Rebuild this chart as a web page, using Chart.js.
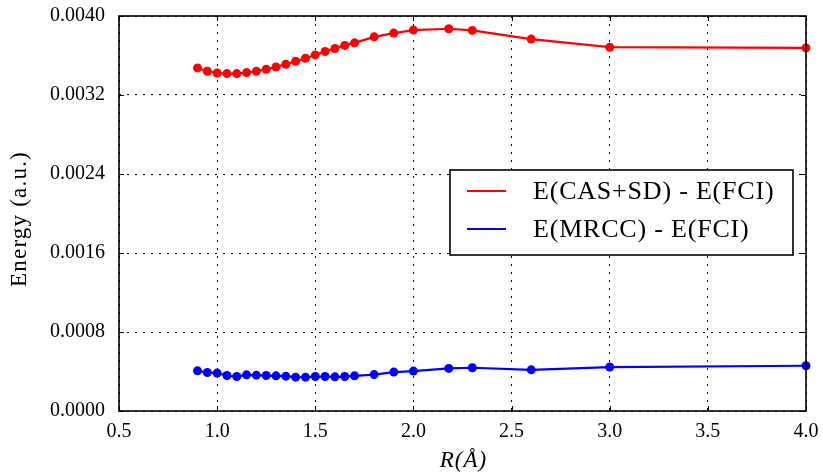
<!DOCTYPE html>
<html>
<head>
<meta charset="utf-8">
<script src="https://cdn.jsdelivr.net/npm/chart.js@4"></script>
<style>
  html, body { margin: 0; padding: 0; background: #fff; }
  #wrap { width: 823px; height: 474px; }
</style>
</head>
<body>
<div id="wrap"><canvas id="energyChart"></canvas></div>
<script>
// bond lengths R (Angstrom)
const rVals = [0.9, 0.95, 1.0, 1.05, 1.1, 1.15, 1.2, 1.25, 1.3, 1.35, 1.4, 1.45, 1.5, 1.55, 1.6, 1.65, 1.7, 1.8, 1.9, 2.0, 2.18, 2.3, 2.6, 3.0, 4.0];

// E(CAS+SD) - E(FCI)
const casVals = [0.003474, 0.003440, 0.003423, 0.003417, 0.003417, 0.003427, 0.003440, 0.003461, 0.003484, 0.003511, 0.003542, 0.003572, 0.003606, 0.003641, 0.003671, 0.003702, 0.003728, 0.003789, 0.003827, 0.003857, 0.003871, 0.003854, 0.003766, 0.003684, 0.003677];

// E(MRCC) - E(FCI)
const mrccVals = [0.000407, 0.000390, 0.000384, 0.000359, 0.000349, 0.000366, 0.000363, 0.000359, 0.000356, 0.000353, 0.000343, 0.000343, 0.000349, 0.000349, 0.000346, 0.000349, 0.000356, 0.000369, 0.000394, 0.000404, 0.000431, 0.000438, 0.000417, 0.000445, 0.000458];

const xTicks = [0.5, 1.0, 1.5, 2.0, 2.5, 3.0, 3.5, 4.0];
const yTicks = [0, 0.0008, 0.0016, 0.0024, 0.0032, 0.0040];

const seriesLabels = ['E(CAS+SD) - E(FCI)', 'E(MRCC) - E(FCI)'];
const xTitle = 'R(Å)';
const yTitle = 'Energy (a.u.)';

const serif = "'Liberation Serif', 'DejaVu Serif', serif";

function toPoints(ys) {
    return rVals.map((r, i) => ({ x: r, y: ys[i] }));
}

// frame, inward ticks, axis titles and the boxed legend, matplotlib style
const frameAndLegend = {
    id: 'frameAndLegend',
    afterDatasetsDraw(chart) {
        const { ctx, chartArea: a, scales } = chart;
        ctx.save();
        ctx.strokeStyle = '#000';
        ctx.lineWidth = 1;
        ctx.beginPath();
        xTicks.forEach(t => {
            const px = Math.round(scales.x.getPixelForValue(t)) + 0.5;
            ctx.moveTo(px, a.bottom); ctx.lineTo(px, a.bottom - 5);
            ctx.moveTo(px, a.top); ctx.lineTo(px, a.top + 5);
        });
        yTicks.forEach(t => {
            const py = Math.round(scales.y.getPixelForValue(t)) + 0.5;
            ctx.moveTo(a.left, py); ctx.lineTo(a.left + 5, py);
            ctx.moveTo(a.right, py); ctx.lineTo(a.right - 5, py);
        });
        ctx.stroke();

        ctx.lineWidth = 1.6;
        ctx.strokeRect(a.left, a.top, a.right - a.left, a.bottom - a.top);

        // axis titles
        ctx.fillStyle = '#000';
        ctx.textAlign = 'center';
        ctx.textBaseline = 'middle';
        ctx.letterSpacing = '1px';
        ctx.font = 'italic 23px ' + serif;
        ctx.fillText(xTitle, (a.left + a.right) / 2 + 1, 461);
        ctx.save();
        ctx.translate(20, 219);
        ctx.rotate(-Math.PI / 2);
        ctx.letterSpacing = '1.2px';
        ctx.font = '23px ' + serif;
        ctx.fillText(yTitle, 0, 0);
        ctx.restore();

        // legend
        const lx = 450, ly = 170, lw = 343, lh = 85;
        ctx.fillStyle = '#fff';
        ctx.fillRect(lx, ly, lw, lh);
        ctx.lineWidth = 1.6;
        ctx.strokeRect(lx, ly, lw, lh);
        ctx.font = '26px ' + serif;
        ctx.letterSpacing = '0.8px';
        ctx.textAlign = 'left';
        ctx.textBaseline = 'middle';
        chart.data.datasets.forEach((ds, i) => {
            const yy = ly + 21 + i * 38;
            ctx.strokeStyle = ds.borderColor;
            ctx.lineWidth = 2.2;
            ctx.beginPath();
            ctx.moveTo(467, yy); ctx.lineTo(506, yy);
            ctx.stroke();
            ctx.fillStyle = '#000';
            ctx.fillText(ds.label, 533, yy + 1);
        });
        ctx.restore();
    }
};

new Chart(document.getElementById('energyChart'), {
    type: 'line',
    data: {
        datasets: [
            {
                label: seriesLabels[0],
                data: toPoints(casVals),
                borderColor: '#ff0000',
                backgroundColor: '#ff0000',
                borderWidth: 2.2,
                pointRadius: 4.5,
                pointBorderWidth: 0,
                tension: 0
            },
            {
                label: seriesLabels[1],
                data: toPoints(mrccVals),
                borderColor: '#0000ff',
                backgroundColor: '#0000ff',
                borderWidth: 2.2,
                pointRadius: 4.5,
                pointBorderWidth: 0,
                tension: 0
            }
        ]
    },
    options: {
        responsive: true,
        maintainAspectRatio: false,
        animation: false,
        clip: false,
        layout: { padding: { top: 16, right: 17, left: 0, bottom: 0 } },
        plugins: {
            legend: { display: false },
            tooltip: { enabled: false }
        },
        scales: {
            x: {
                type: 'linear',
                min: 0.5,
                max: 4.0,
                afterBuildTicks: s => { s.ticks = xTicks.map(v => ({ value: v })); },
                afterFit: s => { s.height = 63; s.paddingLeft = 0; s.paddingRight = 0; },
                grid: { color: '#000', lineWidth: 1, drawTicks: false },
                border: { display: false, dash: [2, 6] },
                ticks: {
                    color: '#000',
                    padding: 9,
                    font: { family: serif, size: 20 },
                    callback: v => v.toFixed(1)
                }
            },
            y: {
                type: 'linear',
                min: 0,
                max: 0.004,
                afterBuildTicks: s => { s.ticks = yTicks.map(v => ({ value: v })); },
                afterFit: s => { s.width = 119; s.paddingTop = 0; s.paddingBottom = 0; },
                grid: { color: '#000', lineWidth: 1, drawTicks: false },
                border: { display: false, dash: [2, 6] },
                ticks: {
                    color: '#000',
                    padding: 14,
                    font: { family: serif, size: 20 },
                    callback: v => v.toFixed(4)
                }
            }
        }
    },
    plugins: [frameAndLegend]
});
</script>
</body>
</html>
